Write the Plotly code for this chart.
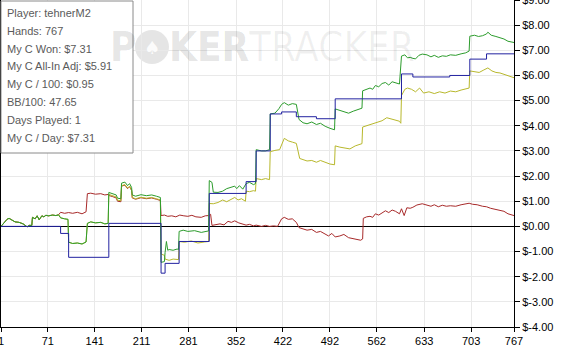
import plotly.graph_objects as go

# ---------------- data ----------------
green_hands = [1,5,10,13,17,22,28,34,40,43,47,48,52,55,58,62,65,68,72,78,83,87,90,92,96,101,102,108,115,122,128,130,135,142,150,156,161,
               162,168,173,175,180,181,186,190,193,196,197,202,210,218,226,233,239,240,245,246,248,250,252,258,264,266,267,273,280,290,300,311,
               312,316,318,325,332,338,345,350,353,357,362,367,372,378,381,382,390,396,402,403,410,416,420,424,430,436,442,446,452,458,465,472,478,485,492,499,
               500,507,513,520,527,533,540,541,547,552,556,560,565,570,575,580,585,590,596,599,604,608,612,616,620,625,630,637,643,648,654,660,666,672,680,688,695,700,
               701,708,714,720,726,728,733,740,746,752,758,762,767]
green_vals = [0,0.12,0.28,0.32,0.26,0.18,0.16,0.1,-0.02,0.04,0.04,0.36,0.3,0.42,0.26,0.42,0.38,0.44,0.42,0.45,0.43,0.46,0.34,0.32,0.3,0.28,-0.63,-0.68,-0.66,-0.7,-0.62,0.12,0.18,0.14,0.16,0.1,0.12,
              1.35,1.3,1.25,1.12,1.1,1.72,1.76,1.62,1.7,1.55,1.25,1.2,1.26,1.22,1.25,1.2,1.15,-1.43,-1.4,-1.04,-0.6,-0.95,-0.92,-0.95,-0.9,-0.92,-0.2,-0.15,-0.2,-0.17,-0.24,-0.18,
              1.82,1.75,1.36,1.35,1.4,1.5,1.55,1.6,1.5,1.62,1.48,1.7,1.75,1.66,1.7,3.05,3.0,3.0,3.05,4.47,4.5,4.68,4.85,4.92,4.82,4.88,4.85,4.25,4.12,4.08,4.15,4.05,4.1,3.98,3.9,3.84,
              4.67,4.6,4.55,4.5,4.58,4.65,4.7,5.39,5.45,5.5,5.45,5.6,5.55,5.68,5.72,5.62,5.75,5.7,5.66,6.77,6.82,6.7,6.72,6.68,6.66,6.8,6.85,6.82,6.74,6.8,6.72,6.78,6.76,6.82,6.8,6.86,6.9,6.97,
              7.56,7.6,7.55,7.58,7.65,7.72,7.6,7.55,7.5,7.45,7.36,7.35,7.31]

blue_hands = [1,90,102,162,240,246,267,312,367,382,403,420,442,472,500,599,616,671,701,726,767]
blue_vals = [0,-0.28,-1.23,0.12,-1.86,-1.47,-0.6,1.31,1.78,3.0,4.47,4.55,4.36,4.28,5.07,6.06,5.94,6.0,6.65,6.86,6.86]

red_hands = [1,5,10,13,17,22,28,34,40,43,47,48,52,55,58,62,65,68,72,78,83,87,90,96,102,108,115,122,128,130,135,142,150,156,161,
             162,168,173,175,180,181,186,190,193,196,197,202,210,218,226,233,239,240,245,250,256,262,268,274,280,286,292,300,306,311,314,
             316,322,328,334,340,345,350,356,362,367,372,378,382,390,396,402,408,414,420,424,430,436,442,446,452,458,465,472,478,485,490,495,500,507,513,520,527,533,538,541,
             542,547,552,556,560,565,570,575,580,585,590,596,599,603,607,612,616,622,630,637,643,648,654,660,666,672,680,688,695,700,705,712,720,726,732,740,746,752,758,762,767]
red_vals = [0,0.12,0.28,0.32,0.26,0.18,0.16,0.1,-0.02,0.04,0.04,0.36,0.3,0.42,0.26,0.42,0.38,0.44,0.42,0.45,0.43,0.46,0.56,0.52,0.55,0.52,0.56,0.5,0.58,1.3,1.32,1.28,1.3,1.25,1.27,
            1.23,1.18,1.13,1.0,0.98,1.6,1.64,1.5,1.58,1.43,1.13,1.08,1.14,1.1,1.13,1.08,1.03,0.43,0.45,0.4,0.42,0.38,0.45,0.42,0.4,0.44,0.38,0.36,0.42,0.43,0.48,
            0.04,0.06,0.1,0.06,0.2,0.16,0.22,0.14,0.1,0.05,0.08,0.02,0.05,0.0,0.04,0.0,0.02,0.0,0.3,0.36,0.28,0.3,0.16,-0.05,-0.1,-0.15,-0.12,-0.24,-0.2,-0.3,-0.38,-0.28,-0.42,-0.38,-0.32,-0.45,-0.48,-0.52,-0.55,-0.5,
            0.32,0.38,0.4,0.36,0.5,0.45,0.55,0.62,0.55,0.65,0.6,0.5,0.7,0.43,0.74,0.72,0.76,0.85,0.9,0.86,0.8,0.86,0.78,0.84,0.8,0.82,0.8,0.86,0.9,0.92,0.88,0.86,0.8,0.78,0.72,0.68,0.62,0.6,0.5,0.48,0.43]

yellow_hands = [1,5,10,13,17,22,28,34,40,43,47,48,52,55,58,62,65,68,72,78,83,87,90,92,96,101,102,108,115,122,128,130,135,142,150,156,161,
                162,168,173,175,180,181,186,190,193,196,197,202,210,218,226,233,239,240,245,246,252,258,266,267,275,285,295,305,311,
                312,318,325,332,338,345,350,355,360,366,367,372,378,381,382,390,396,402,403,410,417,424,430,436,442,447,452,458,465,472,478,485,492,499,
                500,507,513,522,530,535,540,541,547,555,562,570,577,585,592,596,598,599,604,608,614,620,626,632,640,648,656,664,672,680,688,695,700,
                701,708,715,722,728,734,740,746,752,758,762,767]
yellow_vals = [0,0.12,0.28,0.32,0.26,0.18,0.16,0.1,-0.02,0.04,0.04,0.36,0.3,0.42,0.26,0.42,0.38,0.44,0.42,0.45,0.43,0.46,0.34,0.32,0.3,0.28,-0.63,-0.68,-0.66,-0.7,-0.62,0.12,0.18,0.14,0.16,0.1,0.12,
               1.27,1.22,1.17,1.04,1.02,1.62,1.66,1.52,1.6,1.45,1.15,1.1,1.16,1.12,1.15,1.1,1.05,-1.1,-1.15,-1.3,-1.35,-1.3,-1.32,-0.6,-0.63,-0.58,-0.66,-0.62,-0.6,
               0.91,0.9,0.95,1.05,0.98,1.1,1.15,1.05,1.1,1.0,1.4,1.38,1.42,1.4,1.9,1.86,1.9,1.86,2.97,3.02,3.05,3.5,3.4,3.35,3.3,2.7,2.65,2.6,2.62,2.55,2.62,2.55,2.48,2.45,
               3.2,3.15,3.12,3.08,3.2,3.25,3.29,3.95,4.0,4.05,4.12,4.2,4.32,4.25,4.22,4.18,4.1,5.2,5.45,5.5,5.45,5.35,5.5,5.3,5.35,5.28,5.35,5.3,5.38,5.35,5.42,5.45,5.5,
               6.18,6.15,6.12,6.22,6.3,6.18,6.12,6.1,6.05,5.98,5.95,5.91]

x_ticks = [1, 71, 141, 211, 281, 352, 422, 492, 562, 633, 703, 767]
y_ticks = [-4, -3, -2, -1, 0, 1, 2, 3, 4, 5, 6, 7, 8, 9]
y_ticktext = ["$-4.00", "$-3.00", "$-2.00", "$-1.00", "$0.00", "$1.00", "$2.00",
              "$3.00", "$4.00", "$5.00", "$6.00", "$7.00", "$8.00", "$9.00"]

stats_lines = ["Player: tehnerM2", "Hands: 767", "My C Won: $7.31", "My C All-In Adj: $5.91",
               "My C / 100: $0.95", "BB/100: 47.65", "Days Played: 1", "My C / Day: $7.31"]

# ---------------- figure ----------------
W, H = 561, 349
ML, MR, MT, MB = 1, 47, 0, 22
PW, PH = W - ML - MR, H - MT - MB

def px(xp):
    return (xp - ML) / PW

def py(yp):
    return (H - MB - yp) / PH

fig = go.Figure()
fig.add_trace(go.Scatter(x=red_hands, y=red_vals, mode="lines",
                         line=dict(color="#a82a2a", width=1), hoverinfo="skip"))
fig.add_trace(go.Scatter(x=yellow_hands, y=yellow_vals, mode="lines",
                         line=dict(color="#b8b82c", width=1), hoverinfo="skip"))
fig.add_trace(go.Scatter(x=green_hands, y=green_vals, mode="lines",
                         line=dict(color="#2c9c2c", width=1), hoverinfo="skip"))
fig.add_trace(go.Scatter(x=blue_hands, y=blue_vals, mode="lines", line_shape="hv",
                         line=dict(color="#2222a0", width=1), hoverinfo="skip"))

font = "Liberation Sans, Arial, sans-serif"
wm_font = "DejaVu Sans Condensed, Liberation Sans, Arial"
annotations = []
shapes = []

# watermark
annotations.append(dict(xref="paper", yref="paper", x=px(108), y=py(47), xanchor="left", yanchor="middle",
                        text="<b>P</b>", showarrow=False,
                        font=dict(family=wm_font, size=40, color="rgba(0,0,0,0.11)")))
shapes.append(dict(type="circle", xref="paper", yref="paper", x0=px(135), x1=px(169), y0=py(64), y1=py(30),
                   fillcolor="rgba(0,0,0,0.10)", line=dict(width=0), layer="below"))
annotations.append(dict(xref="paper", yref="paper", x=px(152), y=py(47), xanchor="center", yanchor="middle",
                        text="♠", showarrow=False,
                        font=dict(family="DejaVu Sans", size=18, color="rgba(255,255,255,0.9)")))
annotations.append(dict(xref="paper", yref="paper", x=px(167), y=py(47), xanchor="left", yanchor="middle",
                        text="<b>KER</b>", showarrow=False,
                        font=dict(family=wm_font, size=40, color="rgba(0,0,0,0.11)")))
annotations.append(dict(xref="paper", yref="paper", x=px(246), y=py(47), xanchor="left", yanchor="middle",
                        text="TRACKER", showarrow=False,
                        font=dict(family=wm_font, size=40, color="rgba(0,0,0,0.06)")))

# stats box
shapes.append(dict(type="rect", xref="paper", yref="paper", x0=px(1), x1=px(133), y0=py(153), y1=py(1),
                   fillcolor="white", line=dict(color="#8a8a8a", width=1), layer="above"))
for i, t in enumerate(stats_lines):
    annotations.append(dict(xref="paper", yref="paper", x=px(5), y=py(13 + i * 17.8), xanchor="left",
                            yanchor="middle", text=t, showarrow=False,
                            font=dict(family=font, size=11, color="#5a5a5a")))

fig.update_layout(
    width=W, height=H, autosize=False,
    margin=dict(l=ML, r=MR, t=MT, b=MB, pad=0),
    paper_bgcolor="white", plot_bgcolor="white",
    showlegend=False,
    font=dict(family=font, size=11, color="black"),
    annotations=annotations, shapes=shapes,
    xaxis=dict(range=[1, 767], tickvals=x_ticks, ticktext=[str(v) for v in x_ticks],
               showgrid=True, gridcolor="#e9e9e9", gridwidth=1, zeroline=False,
               showline=True, linecolor="black", linewidth=1, ticks="outside", ticklen=4,
               tickcolor="black", ticklabeloverflow="allow", automargin=False,
               tickfont=dict(family=font, size=11, color="black")),
    yaxis=dict(range=[-4, 9], side="right", tickvals=y_ticks, ticktext=y_ticktext,
               showgrid=True, gridcolor="#e9e9e9", gridwidth=1,
               zeroline=True, zerolinecolor="black", zerolinewidth=1,
               showline=True, linecolor="black", linewidth=1, mirror=True, ticks="outside", ticklen=5,
               tickcolor="black", ticklabeloverflow="allow", automargin=False,
               tickfont=dict(family=font, size=11, color="black")),
)

fig.write_html("out.html")
